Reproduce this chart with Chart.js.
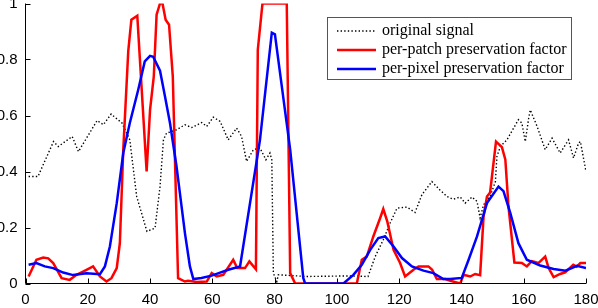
<!DOCTYPE html>
<html>
<head>
<meta charset="utf-8">
<script src="https://cdn.jsdelivr.net/npm/chart.js@4.4.1/dist/chart.umd.min.js"></script>
<style>
  html, body { margin: 0; padding: 0; background: #fff; }
  canvas { display: block; }
</style>
</head>
<body>
<canvas id="chart" width="598" height="308"></canvas>
<script>
// tick values
const xTickValues = [0, 20, 40, 60, 80, 100, 120, 140, 160, 180];
const yTickValues = [0, 0.2, 0.4, 0.6, 0.8, 1];

// original signal (dotted)
const origX = [1, 4, 9, 10.5, 15, 17, 23, 25, 27.5, 31, 33.5, 35.7, 39, 41.6, 43.2, 44.3, 45.3, 48.5, 51.2, 53.4,
  56.6, 58.2, 60.3, 62.5, 65.1, 67.8, 69.4, 71, 73.2, 75.3, 77.2, 78.5, 79.1, 79.6, 80.7, 81.2, 86, 90, 104, 110,
  112.3, 114.9, 117.1, 119.3, 122.5, 125.1, 127.3, 130.5, 133, 135.3, 137.4, 139.6, 141.2, 143.4, 145, 146, 147.1, 149.2, 150.9, 151.4,
  152.5, 154.6, 158.3, 159.4, 160.5, 161.6, 162.1, 164.3, 166.9, 169.1, 171.7, 174.4, 176, 177.6, 178.2, 180];
const origY = [0.382, 0.382, 0.507, 0.489, 0.525, 0.471, 0.582, 0.567, 0.605, 0.573, 0.513, 0.311, 0.186, 0.198, 0.346, 0.513, 0.537, 0.549, 0.567, 0.557,
  0.575, 0.561, 0.594, 0.579, 0.513, 0.555, 0.525, 0.436, 0.478, 0.484, 0.442, 0.466, 0.442, 0.037, 0.007, 0.031, 0.028, 0.025, 0.027, 0.025,
  0.096, 0.156, 0.216, 0.269, 0.273, 0.254, 0.317, 0.364, 0.335, 0.311, 0.301, 0.309, 0.287, 0.309, 0.293, 0.234, 0.281, 0.311, 0.364, 0.454,
  0.489, 0.513, 0.585, 0.573, 0.507, 0.591, 0.620, 0.561, 0.478, 0.519, 0.466, 0.513, 0.448, 0.501, 0.507, 0.400];

// per-patch preservation factor (red)
const patchX = [1, 3.5, 5.7, 7.3, 8.9, 11.6, 14.2, 16.4, 19.6, 21.7, 23.9, 26, 27.6, 29.3, 30.3, 31.4, 33, 34, 35.9, 38.9,
  40, 41.2, 42.1, 43.2, 44, 45, 46.1, 47.3, 49, 51.2, 52.2, 55, 58.2, 59.8, 61.4, 63.5, 66.7, 68, 70.5, 71.9,
  74, 74.6, 76.1, 83.9, 85, 86.6, 106.4, 108, 109.6, 111.7, 113.9, 114.9, 116.2, 118.2, 120.3, 121.9, 124.6, 126.2, 129.4, 130.6,
  132.1, 134.8, 136.4, 139.6, 140.7, 142.8, 144.4, 146, 147.1, 148.2, 149.2, 151.1, 153, 154.1, 155.1, 157, 159.4, 161, 162.6, 164.7,
  166.9, 168, 169.6, 171.7, 173.3, 175.9, 177, 178.2, 180];
const patchY = [0.025, 0.085, 0.093, 0.09, 0.073, 0.019, 0.013, 0.031, 0.049, 0.061, 0.025, 0.007, 0.019, 0.055, 0.144, 0.478, 0.83, 0.942, 0.956, 0.400,
  0.620, 0.74, 0.96, 1.0, 1.0, 0.942, 0.924, 0.74, 0.019, 0.007, 0.01, 0.005, 0.007, 0.037, 0.025, 0.031, 0.085, 0.055, 0.055, 0.079,
  0.051, 0.835, 1.0, 1.0, 0.037, 0.0, 0.0, 0.085, 0.096, 0.168, 0.234, 0.266, 0.221, 0.120, 0.073, 0.025, 0.049, 0.061, 0.061, 0.049,
  0.016, 0.016, 0.01, 0.0, 0.031, 0.025, 0.034, 0.03, 0.239, 0.311, 0.325, 0.507, 0.487, 0.442, 0.275, 0.075, 0.073, 0.061, 0.08, 0.073,
  0.096, 0.055, 0.023, 0.034, 0.04, 0.067, 0.06, 0.073, 0.073];

// per-pixel preservation factor (blue)
const pixelX = [1, 3.5, 6.2, 8.9, 12.1, 15.3, 19.6, 23.9, 25.5, 27.1, 29.3, 31.4, 33.5, 36.2, 38.3, 40, 41, 43.2, 44.8, 46.4,
  48.5, 51.2, 52.8, 53.9, 56.5, 59.8, 62.5, 65.1, 68.9, 75.3, 79.1, 80.1, 85, 89.2, 89.8, 102.1, 105.3, 108, 110.7, 113.3,
  115.5, 118.2, 120.9, 124.1, 127.8, 131, 134.2, 136.4, 140.1, 142.3, 145, 148.2, 151.9, 153.5, 155.7, 158.3, 161, 165.3, 169.6, 173.4,
  177.1, 180];
const pixelY = [0.067, 0.073, 0.061, 0.055, 0.039, 0.03, 0.037, 0.033, 0.061, 0.132, 0.287, 0.466, 0.573, 0.692, 0.793, 0.813, 0.81, 0.760, 0.668, 0.573,
  0.418, 0.18, 0.061, 0.016, 0.02, 0.028, 0.039, 0.049, 0.061, 0.513, 0.896, 0.89, 0.478, 0.02, 0.0, 0.0, 0.031, 0.067, 0.12, 0.162,
  0.168, 0.132, 0.091, 0.061, 0.046, 0.037, 0.016, 0.016, 0.02, 0.085, 0.168, 0.287, 0.346, 0.33, 0.251, 0.144, 0.085, 0.064, 0.052, 0.046,
  0.063, 0.055];

const seriesLabels = ['original signal', 'per-patch preservation factor', 'per-pixel preservation factor'];

function toPoints(xs, ys) {
  return xs.map((x, i) => ({ x: x, y: ys[i] }));
}

// axes tracés à la main : seulement gauche et bas, graduations vers l'intérieur
const axesPlugin = {
  id: 'axes',
  afterDatasetsDraw(chart) {
    const ctx = chart.ctx;
    const a = chart.chartArea;
    const xs = chart.scales.x, ys = chart.scales.y;
    ctx.save();
    ctx.strokeStyle = '#000';
    ctx.lineWidth = 1;
    ctx.beginPath();
    ctx.moveTo(a.left, a.top);
    ctx.lineTo(a.left, a.bottom);
    ctx.lineTo(a.right, a.bottom);
    xTickValues.forEach(v => {
      const px = Math.round(xs.getPixelForValue(v)) + 0.5;
      ctx.moveTo(px, a.bottom);
      ctx.lineTo(px, a.bottom - 5);
    });
    yTickValues.forEach(v => {
      const py = Math.round(ys.getPixelForValue(v)) + 0.5;
      ctx.moveTo(a.left, py);
      ctx.lineTo(a.left + 5, py);
    });
    ctx.stroke();
    ctx.restore();
  }
};

// légende dans un cadre, en haut à droite
const legendPlugin = {
  id: 'boxLegend',
  afterDraw(chart) {
    const ctx = chart.ctx;
    const box = { left: 327.5, top: 17.5, width: 244, height: 62 };
    ctx.save();
    ctx.fillStyle = '#fff';
    ctx.fillRect(box.left, box.top, box.width, box.height);
    ctx.strokeStyle = '#555';
    ctx.lineWidth = 1;
    ctx.strokeRect(box.left, box.top, box.width, box.height);
    ctx.font = '16px "Liberation Serif", "Times New Roman", serif';
    ctx.textBaseline = 'middle';
    ctx.fillStyle = '#000';
    chart.data.datasets.forEach((ds, i) => {
      const y = box.top + 13.5 + i * 19;
      ctx.save();
      ctx.strokeStyle = ds.borderColor;
      ctx.lineWidth = ds.borderWidth;
      ctx.setLineDash(ds.borderDash || []);
      ctx.beginPath();
      ctx.moveTo(337, y);
      ctx.lineTo(376, y);
      ctx.stroke();
      ctx.restore();
      ctx.fillText(ds.label, 382, y);
    });
    ctx.restore();
  }
};

const ctx = document.getElementById('chart').getContext('2d');
new Chart(ctx, {
  type: 'line',
  data: {
    datasets: [{
      label: seriesLabels[0],
      data: toPoints(origX, origY),
      borderColor: '#000',
      borderWidth: 1.4,
      borderDash: [1.4, 2.2],
      order: 3
    }, {
      label: seriesLabels[1],
      data: toPoints(patchX, patchY),
      borderColor: '#ff0000',
      borderWidth: 2.5,
      order: 2
    }, {
      label: seriesLabels[2],
      data: toPoints(pixelX, pixelY),
      borderColor: '#0000ff',
      borderWidth: 2.5,
      order: 1
    }]
  },
  options: {
    responsive: false,
    animation: false,
    devicePixelRatio: 1,
    layout: { padding: { left: 0, right: 12, top: 3.5, bottom: 0 } },
    elements: {
      point: { radius: 0 },
      line: { tension: 0, fill: false }
    },
    plugins: {
      legend: { display: false },
      tooltip: { enabled: false }
    },
    scales: {
      x: {
        type: 'linear',
        min: 0,
        max: 180,
        afterBuildTicks: (s) => { s.ticks = xTickValues.map(v => ({ value: v })); },
        afterFit: (s) => { s.height = 24.5; s.paddingLeft = 0; s.paddingRight = 0; },
        grid: { display: false, drawTicks: false },
        border: { display: false },
        ticks: {
          padding: 7,
          color: '#000',
          font: { family: '"Liberation Sans", Arial, sans-serif', size: 15 },
          maxRotation: 0,
          callback: (v) => String(v)
        }
      },
      y: {
        type: 'linear',
        min: 0,
        max: 1,
        afterBuildTicks: (s) => { s.ticks = yTickValues.map(v => ({ value: v })); },
        afterFit: (s) => { s.width = 25.5; s.paddingTop = 0; s.paddingBottom = 0; },
        grid: { display: false, drawTicks: false },
        border: { display: false },
        ticks: {
          padding: 8,
          color: '#000',
          font: { family: '"Liberation Sans", Arial, sans-serif', size: 15 },
          callback: (v) => String(v)
        }
      }
    }
  },
  plugins: [axesPlugin, legendPlugin]
});
</script>
</body>
</html>
